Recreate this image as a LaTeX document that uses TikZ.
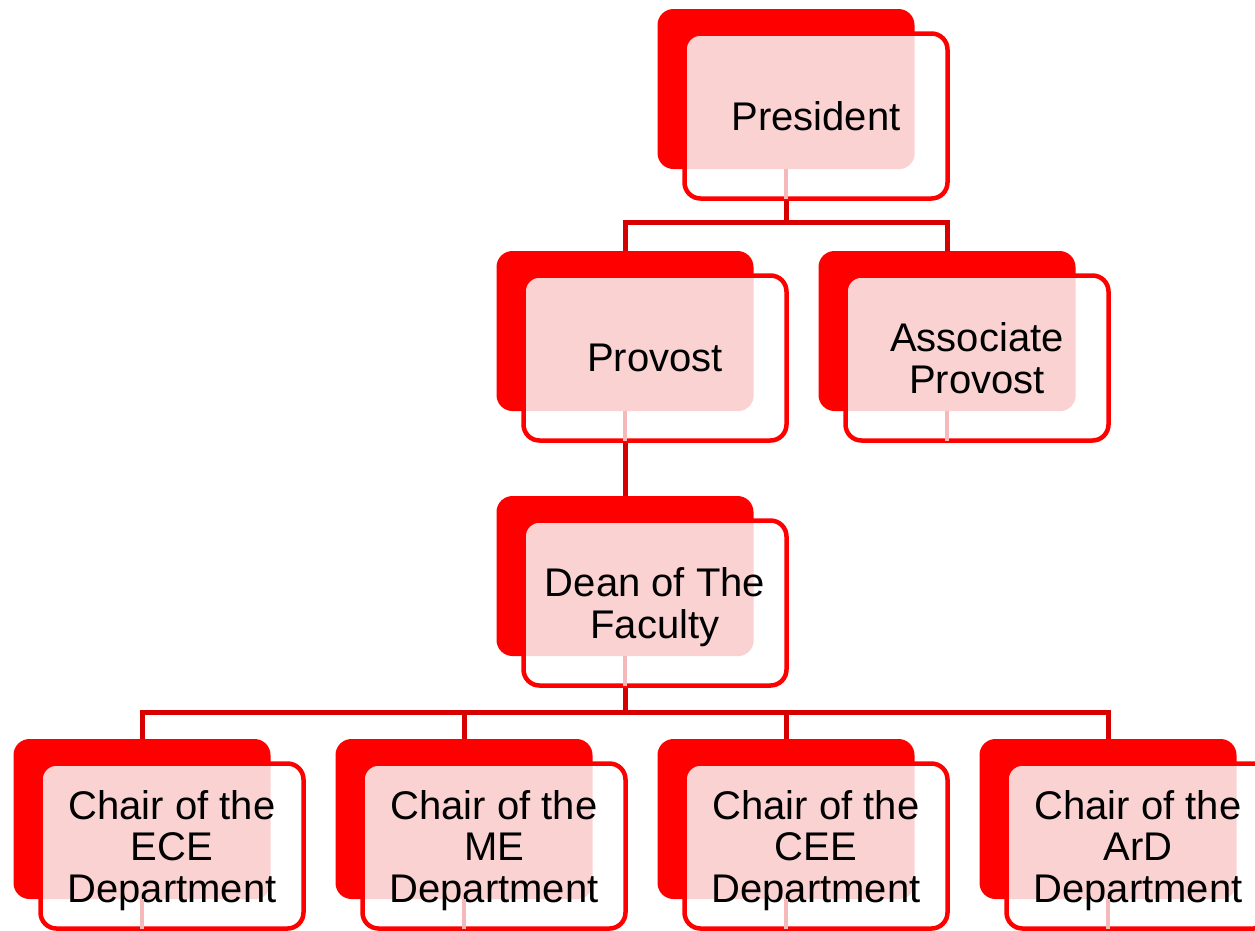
\documentclass[tikz,border=0pt]{standalone}
\usepackage{fontspec}
\setmainfont{Liberation Sans}
\usetikzlibrary{calc}
\pgfdeclarelayer{conn}
\pgfsetlayers{conn,main}
\definecolor{boxred}{RGB}{255,0,0}
\definecolor{linered}{RGB}{214,0,0}
\definecolor{pinkfill}{RGB}{250,210,210}
\definecolor{ghostpink}{RGB}{245,185,185}
\tikzset{
  backbox/.style={rectangle, rounded corners=16pt, fill=boxred, draw=none,
    minimum width=257pt, minimum height=160pt, inner sep=0pt},
  frontbox/.style={rectangle, rounded corners=16pt, fill=white, draw=boxred,
    line width=4.5pt, minimum width=263pt, minimum height=165pt, inner sep=0pt,
    align=center, text depth=0pt, font=\fontsize{40}{41.5}\selectfont},
  conline/.style={draw=linered, line width=5pt, line join=miter},
  ghost/.style={draw=ghostpink, line width=4pt, shorten >=2pt},
}
\newcommand\orgbox[4]{%
  \node[backbox] (#1B) at ({#2-30},{#3-27}) {};
  \node[frontbox, path picture={\fill[pinkfill, rounded corners=16pt] (#1B.north west) rectangle (#1B.south east);}] (#1) at (#2,#3) {#4};
  \draw[ghost] (#1B.south) -- (#1.south -| #1B);
}
\begin{document}
\begin{tikzpicture}[x=1pt,y=-1pt]
\useasboundingbox (0,0) rectangle (1255,930);
\clip (0,0) rectangle (1255,930);
\orgbox{pres}{816}{116}{President}
\orgbox{prov}{655}{358}{Provost}
\orgbox{assoc}{977}{358}{Associate\\Provost}
\orgbox{dean}{655}{603}{Dean of The\\Faculty}
\orgbox{ece}{172}{846}{Chair of the\\ECE\\Department}
\orgbox{me}{494}{846}{Chair of the\\ME\\Department}
\orgbox{cee}{816}{846}{Chair of the\\CEE\\Department}
\orgbox{ard}{1138}{846}{Chair of the\\ArD\\Department}
\coordinate (j1) at (786,222);
\coordinate (j2) at (625,712);
\begin{pgfonlayer}{conn}
  \draw[conline] (pres.south -| presB) -- (j1);
  \draw[conline] (provB.north) |- (j1) -| (assocB.north);
  \draw[conline] (prov.south -| provB) -- (deanB.north);
  \draw[conline] (dean.south -| deanB) -- (j2);
  \draw[conline] (eceB.north) |- (j2) -| (ardB.north);
  \draw[conline] (j2 -| meB) -- (meB.north);
  \draw[conline] (j2 -| ceeB) -- (ceeB.north);
\end{pgfonlayer}
\end{tikzpicture}
\end{document}
